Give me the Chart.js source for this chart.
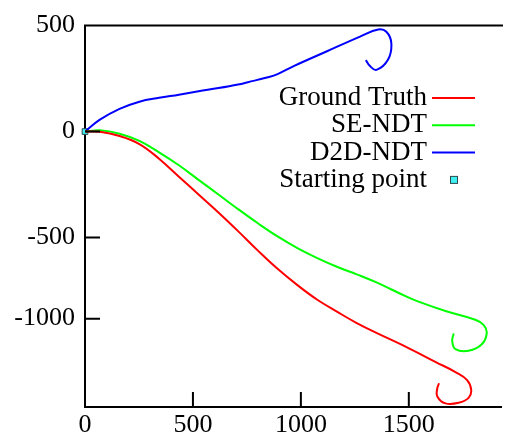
<!DOCTYPE html>
<html>
<head>
<meta charset="utf-8">
<script src="https://cdn.jsdelivr.net/npm/chart.js@4.4.1/dist/chart.umd.min.js"></script>
<style>
  html, body { margin: 0; padding: 0; background: #fff; overflow: hidden; }
  #wrap { width: 506px; height: 439px; }
</style>
</head>
<body>
<div id="wrap"><canvas id="c" width="506" height="439"></canvas></div>
<script>
// trajectories (x, y)
const gtX = [0, 69, 160, 252, 343, 435, 526, 618, 709, 801, 892, 984, 1076, 1167, 1259, 1350, 1487, 1625, 1716, 1770, 1789, 1777, 1731, 1670, 1632, 1632, 1640];
const gtY = [0, -1, -21, -59, -128, -213, -297, -382, -470, -562, -648, -725, -794, -850, -904, -950, -1016, -1088, -1135, -1173, -1219, -1257, -1280, -1283, -1250, -1211, -1188];

const seX = [0, 69, 160, 252, 343, 435, 526, 618, 709, 801, 892, 984, 1076, 1167, 1259, 1350, 1487, 1548, 1670, 1808, 1846, 1861, 1838, 1777, 1716, 1701, 1708];
const seY = [0, 6, -10, -44, -98, -159, -228, -297, -366, -433, -495, -550, -597, -638, -674, -712, -778, -804, -847, -888, -912, -950, -1004, -1035, -1027, -988, -953];

const d2dX = [0, 69, 160, 252, 343, 435, 526, 618, 709, 755, 847, 892, 969, 1121, 1274, 1358, 1396, 1419, 1404, 1350, 1319, 1301];
const d2dY = [0, 56, 107, 141, 159, 174, 190, 205, 222, 233, 256, 271, 310, 379, 448, 482, 471, 417, 340, 291, 310, 337];

const startX = [0];
const startY = [0];

const xTickValues = [0, 500, 1000, 1500];
const xTickLabels = ["0", "500", "1000", "1500"];
// the last y label sits off the linear spacing in the original figure
const yTickValues = [500, 0, -500, -883];
const yTickLabels = ["500", "0", "-500", "-1000"];

const pts = (xs, ys) => xs.map((x, i) => ({ x: x, y: ys[i] }));

Chart.defaults.font.family = "'Liberation Serif', 'DejaVu Serif', serif";
Chart.defaults.font.size = 26;
Chart.defaults.color = "#000";

// inward tick marks, top border and a right-aligned legend
const frame = {
  id: "frame",
  afterDraw(chart) {
    const { ctx, chartArea: a, scales } = chart;
    ctx.save();
    ctx.strokeStyle = "#000";
    ctx.lineWidth = 2;
    ctx.beginPath();
    ctx.moveTo(a.left - 1, a.top);
    ctx.lineTo(a.right + 2, a.top);
    scales.x.ticks.forEach(t => {
      const px = scales.x.getPixelForValue(t.value);
      ctx.moveTo(px, a.bottom);
      ctx.lineTo(px, a.bottom - 15);
    });
    scales.y.ticks.forEach(t => {
      const py = scales.y.getPixelForValue(t.value);
      ctx.moveTo(a.left, py);
      ctx.lineTo(a.left + 15, py);
    });
    ctx.stroke();

    ctx.font = "27px 'Liberation Serif', serif";
    ctx.textAlign = "right";
    ctx.textBaseline = "middle";
    chart.data.datasets.forEach((d, i) => {
      const y = 98 + i * 27.3;
      ctx.fillStyle = "#000";
      ctx.fillText(d.label, 427, y);
      if (d.showLine === false) {
        ctx.fillStyle = d.backgroundColor;
        ctx.strokeStyle = d.borderColor;
        ctx.lineWidth = 1;
        ctx.fillRect(450.5, y - 3.5, 7, 7);
        ctx.strokeRect(450.5, y - 3.5, 7, 7);
      } else {
        ctx.strokeStyle = d.borderColor;
        ctx.lineWidth = 2;
        ctx.beginPath();
        ctx.moveTo(432, y);
        ctx.lineTo(475, y);
        ctx.stroke();
      }
    });
    ctx.restore();
  }
};

const lineSet = (label, data, color) => ({
  label: label,
  data: data,
  borderColor: color,
  backgroundColor: color,
  borderWidth: 2,
  pointRadius: 0,
  tension: 0.4,
  fill: false,
});

new Chart(document.getElementById("c"), {
  type: "scatter",
  data: {
    datasets: [
      { ...lineSet("Ground Truth", pts(gtX, gtY), "#ff0000"), showLine: true },
      { ...lineSet("SE-NDT", pts(seX, seY), "#00ff00"), showLine: true },
      { ...lineSet("D2D-NDT", pts(d2dX, d2dY), "#0000ff"), showLine: true },
      {
        label: "Starting point",
        data: pts(startX, startY),
        showLine: false,
        pointStyle: "rect",
        pointRadius: 4,
        backgroundColor: "#40f0f0",
        borderColor: "#2a4a50",
        borderWidth: 1,
        clip: false,
      },
    ],
  },
  options: {
    responsive: false,
    animation: false,
    devicePixelRatio: 1,
    layout: { padding: { top: 18, right: 0, left: 0, bottom: 0 } },
    plugins: { legend: { display: false }, tooltip: { enabled: false } },
    scales: {
      x: {
        type: "linear",
        min: 0,
        max: 1927,
        afterBuildTicks: s => { s.ticks = xTickValues.map(v => ({ value: v })); },
        afterFit: s => { s.height = 32; },
        ticks: { padding: 3, maxRotation: 0, callback: (v, i) => xTickLabels[i] },
        grid: { drawOnChartArea: false, drawTicks: false, color: "#000" },
        border: { color: "#000", width: 2 },
      },
      y: {
        type: "linear",
        min: -1300,
        max: 500,
        afterBuildTicks: s => { s.ticks = yTickValues.map(v => ({ value: v })); },
        afterFit: s => { s.width = 85; },
        ticks: { padding: 10, callback: (v, i) => yTickLabels[i] },
        grid: { drawOnChartArea: false, drawTicks: false, color: "#000" },
        border: { color: "#000", width: 2 },
      },
    },
  },
  plugins: [frame],
});
</script>
</body>
</html>
